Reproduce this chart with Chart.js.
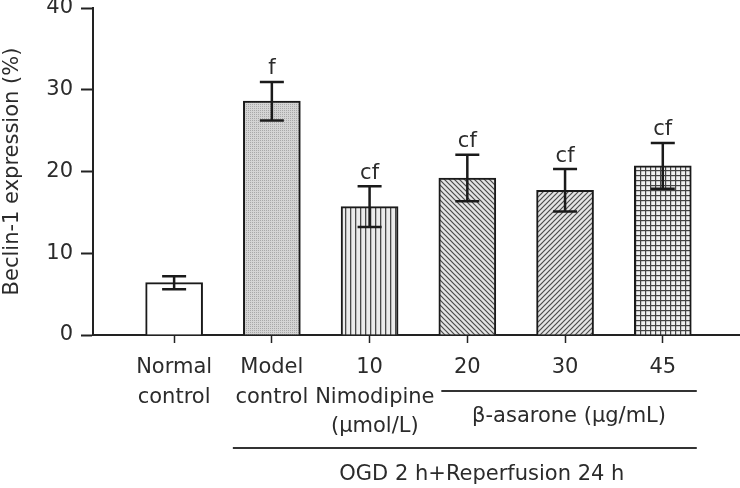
<!DOCTYPE html>
<html>
<head>
<meta charset="utf-8">
<script src="https://cdn.jsdelivr.net/npm/chart.js@4"></script>
<style>
  html, body { margin: 0; padding: 0; background: #fff; }
  #chart { display: block; }
</style>
</head>
<body>
<canvas id="chart" width="740" height="488"></canvas>
<script>
// values (mean ± SEM, %)
const groups = ['Normal control', 'Model control', 'Nimodipine 10', 'β-asarone 20', 'β-asarone 30', 'β-asarone 45'];
const tickLabels = [['Normal', 'control'], ['Model', 'control'], ['10', '\u2002Nimodipine', '\u2002(µmol/L)'], ['20'], ['30'], ['45']];
const beclinMean = [6.4, 28.6, 15.7, 19.2, 17.7, 20.7];
const beclinSem = [0.8, 2.35, 2.5, 2.85, 2.6, 2.8];
const sigMarks = ['', 'f', 'cf', 'cf', 'cf', 'cf'];
const yTicks = [0, 10, 20, 30, 40];
const fills = ['plain', 'dots', 'vlines', 'back', 'fwd', 'grid'];

const FONT = 'DejaVu Sans';
const TEXT = '#2b2b2b';
const INK = '#1a1a1a';

const canvas = document.getElementById('chart');
const ctx = canvas.getContext('2d');

// hatch fills for the bars
function makePattern(kind) {
  if (kind === 'plain') return '#ffffff';
  const s = 5;
  const tile = document.createElement('canvas');
  tile.width = s; tile.height = s;
  const g = tile.getContext('2d');
  g.strokeStyle = '#4a4a4a';
  g.lineWidth = 1.2;
  if (kind === 'dots') {
    tile.width = 2; tile.height = 2;
    g.fillStyle = '#d4d4d4'; g.fillRect(0, 0, 2, 2);
    g.fillStyle = '#a8a8a8'; g.fillRect(0, 0, 1, 1);
  } else if (kind === 'vlines') {
    g.fillStyle = '#ececec'; g.fillRect(0, 0, s, s);
    g.fillStyle = '#4a4a4a'; g.fillRect(0, 0, 1.3, s);
  } else if (kind === 'back' || kind === 'fwd') {
    g.fillStyle = '#e4e4e4'; g.fillRect(0, 0, s, s);
    g.beginPath();
    if (kind === 'back') {
      g.moveTo(-1, -1); g.lineTo(s + 1, s + 1);
      g.moveTo(-1, s - 1); g.lineTo(1, s + 1);
      g.moveTo(s - 1, -1); g.lineTo(s + 1, 1);
    } else {
      g.moveTo(-1, s + 1); g.lineTo(s + 1, -1);
      g.moveTo(-1, 1); g.lineTo(1, -1);
      g.moveTo(s - 1, s + 1); g.lineTo(s + 1, s - 1);
    }
    g.stroke();
  } else if (kind === 'grid') {
    g.fillStyle = '#f0f0f0'; g.fillRect(0, 0, s, s);
    g.fillStyle = '#444';
    g.fillRect(0, 0, 1.2, s);
    g.fillRect(0, 0, s, 1.2);
  }
  return ctx.createPattern(tile, 'repeat');
}

const errorBars = {
  id: 'errorBars',
  afterDatasetsDraw(chart) {
    const { ctx, scales: { y } } = chart;
    const meta = chart.getDatasetMeta(0);
    ctx.save();
    ctx.strokeStyle = INK;
    ctx.lineWidth = 2.5;
    ctx.fillStyle = TEXT;
    ctx.font = '21px "' + FONT + '"';
    ctx.textAlign = 'center';
    ctx.textBaseline = 'middle';
    meta.data.forEach((bar, i) => {
      const top = y.getPixelForValue(beclinMean[i] + beclinSem[i]);
      const bot = y.getPixelForValue(beclinMean[i] - beclinSem[i]);
      const half = 12;
      ctx.beginPath();
      ctx.moveTo(bar.x, top); ctx.lineTo(bar.x, bot);
      ctx.moveTo(bar.x - half, top); ctx.lineTo(bar.x + half, top);
      ctx.moveTo(bar.x - half, bot); ctx.lineTo(bar.x + half, bot);
      ctx.stroke();
      if (sigMarks[i]) ctx.fillText(sigMarks[i], bar.x, top - 13);
    });
    ctx.restore();
  }
};

// treatment brackets under the axis
const groupLabels = {
  id: 'groupLabels',
  afterDraw(chart) {
    const { ctx, scales: { x } } = chart;
    const p = (v) => x.getPixelForValue(v);
    ctx.save();
    ctx.strokeStyle = '#333';
    ctx.lineWidth = 2;
    ctx.fillStyle = TEXT;
    ctx.font = '21px "' + FONT + '"';
    ctx.textAlign = 'center';
    ctx.textBaseline = 'middle';

    const bL = p(3) - 26, bR = p(5) + 34;
    ctx.beginPath(); ctx.moveTo(bL, 391); ctx.lineTo(bR, 391); ctx.stroke();
    ctx.fillText('β-asarone (µg/mL)', (bL + bR) / 2, 417);

    const oL = p(1) - 39;
    ctx.beginPath(); ctx.moveTo(oL, 448); ctx.lineTo(bR, 448); ctx.stroke();
    ctx.fillText('OGD 2 h+Reperfusion 24 h', (oL + bR) / 2 + 17, 475);
    ctx.restore();
  }
};

new Chart(ctx, {
  type: 'bar',
  data: {
    datasets: [{
      data: groups.map((g, i) => ({ x: i, y: beclinMean[i] })),
      backgroundColor: fills.map(makePattern),
      borderColor: INK,
      borderWidth: 2,
      barThickness: 57,
    }],
  },
  options: {
    responsive: false,
    animation: false,
    devicePixelRatio: 1,
    layout: { padding: 0 },
    plugins: { legend: { display: false }, tooltip: { enabled: false } },
    scales: {
      x: {
        type: 'linear',
        offset: false,
        bounds: 'data',
        min: -0.83,
        max: 5.79,
        afterBuildTicks: (s) => { s.ticks = groups.map((g, i) => ({ value: i })); },
        afterFit: (s) => { s.height = 153; },
        ticks: {
          autoSkip: false,
          maxRotation: 0,
          padding: 10,
          color: TEXT,
          font: { family: FONT, size: 21, lineHeight: 1.4 },
          callback: (v) => tickLabels[v],
        },
        grid: { offset: false, drawOnChartArea: false, tickLength: 8, tickWidth: 1.5, tickColor: '#222' },
        border: { color: '#222', width: 2 },
      },
      y: {
        min: 0,
        max: 40,
        afterBuildTicks: (s) => { s.ticks = yTicks.map((v) => ({ value: v })); },
        afterFit: (s) => { s.width = 93; s.paddingTop = 8; s.paddingBottom = 0; },
        ticks: { padding: 8, color: TEXT, font: { family: FONT, size: 21 } },
        grid: { drawOnChartArea: false, tickLength: 12, tickWidth: 2, tickColor: '#222' },
        border: { color: '#222', width: 2 },
        title: {
          display: true,
          text: 'Beclin-1 expression (%)',
          color: TEXT,
          font: { family: FONT, size: 21 },
          padding: { top: 0, bottom: 0 },
        },
      },
    },
  },
  plugins: [errorBars, groupLabels],
});
</script>
</body>
</html>
